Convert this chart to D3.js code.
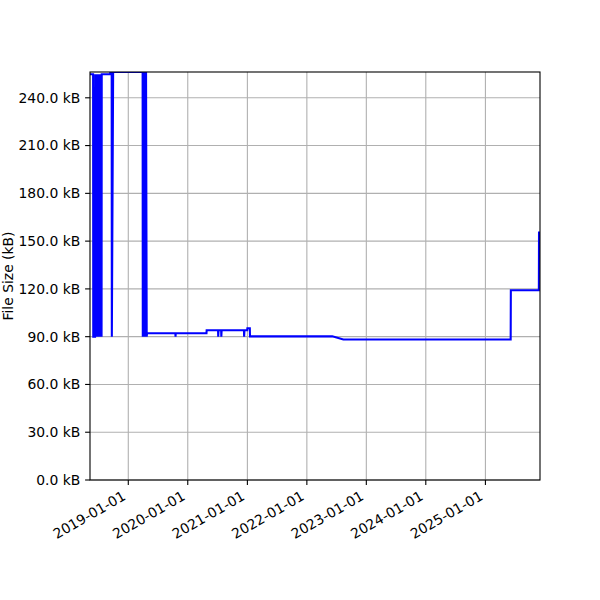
<!DOCTYPE html>
<html>
<head>
<meta charset="utf-8">
<script src="https://cdn.jsdelivr.net/npm/d3@7"></script>
<style>
  body { margin: 0; background: #fff; }
  text { font-family: "DejaVu Sans", sans-serif; fill: #000; }
</style>
</head>
<body>
<div id="chart"></div>
<script>
// commit dates and file sizes (kB)
var dates = [
  "2018-05-11", "2018-05-30", "2018-05-31", "2018-06-11", "2018-06-12",
  "2018-06-15", "2018-06-18", "2018-06-21", "2018-06-24", "2018-06-27",
  "2018-06-30", "2018-07-03", "2018-07-06", "2018-07-09", "2018-07-12",
  "2018-07-15", "2018-07-18", "2018-07-21", "2018-07-22", "2018-09-11",
  "2018-09-12", "2018-09-21", "2018-09-22", "2018-09-30", "2019-03-30",
  "2019-03-31", "2019-04-04", "2019-04-08", "2019-04-12", "2019-04-16",
  "2019-04-20", "2019-04-24", "2019-04-26", "2019-10-17", "2019-10-18",
  "2019-10-19", "2020-04-25", "2020-04-26", "2020-07-05", "2020-07-06",
  "2020-07-08", "2020-07-24", "2020-07-25", "2020-07-27", "2020-12-11",
  "2020-12-12", "2020-12-14", "2020-12-31", "2021-01-01", "2021-01-16",
  "2021-01-17", "2022-06-06", "2022-08-13", "2025-06-05", "2025-06-06",
  "2025-11-25", "2025-11-26"
];
var sizes = [
  254.8, 254.8, 90.0, 90.0, 254.8,
  90.0, 254.8, 90.0, 254.8, 90.0,
  254.8, 90.0, 254.8, 90.0, 254.8,
  90.0, 254.8, 90.0, 254.8, 254.8,
  255.5, 255.5, 90.0, 256.2, 256.2,
  90.0, 256.2, 90.0, 256.2, 90.0,
  256.2, 90.0, 92.1, 92.1, 90.0,
  92.1, 92.1, 94.0, 94.0, 90.0,
  94.0, 94.0, 90.0, 94.0, 94.0,
  90.0, 94.0, 94.0, 95.3, 95.3,
  90.2, 90.2, 88.2, 88.2, 119.2,
  119.2, 156.0
];
var yTicks = [0, 30, 60, 90, 120, 150, 180, 210, 240];
var yTitle = "File Size (kB)";

(function() {
  var W = 600, H = 600;
  var pl = 90, pr = 540, pt = 72, pb = 480;
  var fs = 13.9;

  var parse = d3.timeParse("%Y-%m-%d");
  var data = dates.map(function(d, i) { return { date: parse(d), size: sizes[i] }; });

  var svg = d3.select("#chart").append("svg")
    .attr("width", W).attr("height", H);

  // a few days of room on the right so the last step shows fully
  var xMin = data[0].date;
  var xMax = d3.timeDay.offset(data[data.length - 1].date, 6);
  var x = d3.scaleTime()
    .domain([xMin, xMax])
    .range([pl, pr]);
  var y = d3.scaleLinear()
    .domain([0, d3.max(sizes)])
    .range([pb, pt]);

  var xTicks = x.ticks(d3.timeYear.every(1));

  // grid
  var grid = svg.append("g").attr("stroke", "#b0b0b0").attr("stroke-width", 1.1);
  grid.selectAll("line.gx").data(xTicks).enter().append("line").attr("class", "gx")
    .attr("x1", function(d) { return x(d); }).attr("x2", function(d) { return x(d); })
    .attr("y1", pt).attr("y2", pb);
  grid.selectAll("line.gy").data(yTicks).enter().append("line").attr("class", "gy")
    .attr("y1", function(d) { return y(d); }).attr("y2", function(d) { return y(d); })
    .attr("x1", pl).attr("x2", pr);

  svg.append("clipPath").attr("id", "plot")
    .append("rect").attr("x", pl).attr("y", pt)
    .attr("width", pr - pl).attr("height", pb - pt);

  var line = d3.line()
    .x(function(d) { return x(d.date); })
    .y(function(d) { return y(d.size); });

  svg.append("path")
    .datum(data)
    .attr("clip-path", "url(#plot)")
    .attr("fill", "none")
    .attr("stroke", "#0000ff")
    .attr("stroke-width", 2.08)
    .attr("d", line);

  // frame
  svg.append("rect")
    .attr("x", pl).attr("y", pt)
    .attr("width", pr - pl).attr("height", pb - pt)
    .attr("fill", "none").attr("stroke", "#000").attr("stroke-width", 1.1);

  // y axis
  var fmtY = d3.format(".1f");
  var yAx = svg.append("g");
  yAx.selectAll("line").data(yTicks).enter().append("line")
    .attr("x1", pl - 4.9).attr("x2", pl)
    .attr("y1", function(d) { return y(d); }).attr("y2", function(d) { return y(d); })
    .attr("stroke", "#000").attr("stroke-width", 1.1);
  yAx.selectAll("text").data(yTicks).enter().append("text")
    .attr("x", pl - 9.7)
    .attr("y", function(d) { return y(d); })
    .attr("dy", "0.35em")
    .attr("text-anchor", "end")
    .style("font-size", fs + "px")
    .text(function(d) { return fmtY(d) + " kB"; });

  // x axis
  var fmtX = d3.timeFormat("%Y-%m-%d");
  var xAx = svg.append("g");
  xAx.selectAll("line").data(xTicks).enter().append("line")
    .attr("x1", function(d) { return x(d); }).attr("x2", function(d) { return x(d); })
    .attr("y1", pb).attr("y2", pb + 4.9)
    .attr("stroke", "#000").attr("stroke-width", 1.1);
  xAx.selectAll("text").data(xTicks).enter().append("text")
    .attr("transform", function(d) {
      return "translate(" + (x(d) - 1.6) + "," + (pb + 18.9) + ") rotate(-30)";
    })
    .attr("text-anchor", "end")
    .style("font-size", fs + "px")
    .text(function(d) { return fmtX(d); });

  svg.append("text")
    .attr("transform", "translate(12.5," + ((pt + pb) / 2) + ") rotate(-90)")
    .attr("text-anchor", "middle")
    .style("font-size", fs + "px")
    .text(yTitle);
})();
</script>
</body>
</html>
